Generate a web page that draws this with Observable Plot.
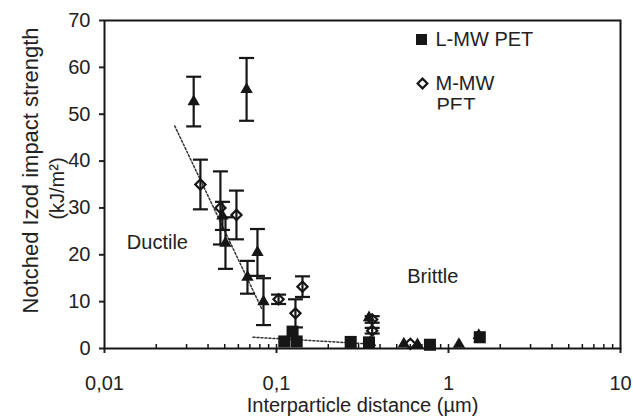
<!DOCTYPE html>
<html><head><meta charset="utf-8">
<script src="https://cdn.jsdelivr.net/npm/d3@7"></script>
<script src="https://cdn.jsdelivr.net/npm/@observablehq/plot@0.6"></script>
<style>body{margin:0;background:#fff}</style>
</head><body><div id="chart"></div>
<script>
// Triangles (third series, not in the visible legend)
const triX   = [0.033, 0.067, 0.0485, 0.0505, 0.0678, 0.0775, 0.084, 0.345, 0.35, 0.55, 0.66, 1.15, 1.5];
const triY   = [52.7, 55.3, 28.3, 22.5, 15.2, 20.5, 10.0, 6.6, 1.3, 1.0, 0.8, 0.9, 2.8];
const triErr = [5.3, 6.7, 3.0, 5.5, 3.5, 5.0, 5.0, 0, 0, 0, 0, 0, 0];
// M-MW PET (open diamonds)
const mmwX   = [0.0361, 0.0472, 0.0585, 0.1028, 0.1416, 0.1289, 0.36, 0.36, 0.6];
const mmwY   = [35.0, 30.0, 28.5, 10.5, 13.2, 7.5, 6.2, 3.8, 1.0];
const mmwErr = [5.3, 7.8, 5.2, 1.0, 2.2, 3.0, 0.7, 0.6, 0];
// L-MW PET (filled squares)
const lmwX   = [0.111, 0.124, 0.131, 0.27, 0.345, 0.78, 1.52];
const lmwY   = [1.5, 3.6, 1.5, 1.4, 1.3, 0.8, 2.4];
// Dotted trend lines
const ductileX = [0.0256, 0.082];
const ductileY = [47.5, 8.5];
const brittleX = [0.073, 0.34];
const brittleY = [2.4, 1.0];
// Annotations
const annText = ["Ductile", "Brittle"];
const annX = [0.0203, 0.81];
const annY = [22.5, 15.4];
// Axes
const yTicks = [0, 10, 20, 30, 40, 50, 60, 70];
const xTicks = [0.01, 0.1, 1, 10];
const xTickLabels = ["0,01", "0,1", "1", "10"];
const xMinor = [0.02,0.03,0.04,0.05,0.06,0.07,0.08,0.09,0.1,
                0.2,0.3,0.4,0.5,0.6,0.7,0.8,0.9,1,
                2,3,4,5,6,7,8,9];
const legendNames = ["L-MW PET", "M-MW", "PET"];

const tri = triX.map((x, i) => ({x, y: triY[i], e: triErr[i]}));
const mmw = mmwX.map((x, i) => ({x, y: mmwY[i], e: mmwErr[i]}));
const lmw = lmwX.map((x, i) => ({x, y: lmwY[i]}));
const ductile = ductileX.map((x, i) => ({x, y: ductileY[i]}));
const brittle = brittleX.map((x, i) => ({x, y: brittleY[i]}));
const ann = annText.map((t, i) => ({t, x: annX[i], y: annY[i]}));
const errs = [...tri, ...mmw].filter(d => d.e > 0);

const ink = "#161616";
const cap = {draw(ctx) { ctx.moveTo(-7.5, 0); ctx.lineTo(7.5, 0); }};
const font = "'Liberation Sans', Arial, Helvetica, sans-serif";

const chart = Plot.plot({
  width: 633, height: 419,
  marginLeft: 104, marginRight: 13, marginTop: 20, marginBottom: 71,
  style: {fontFamily: font, fontSize: "20px", color: "#222", background: "#fff"},
  x: {type: "log", domain: [0.01, 10]},
  y: {domain: [0, 70]},
  marks: [
    Plot.axisY({ticks: yTicks, tickSize: 5, tickPadding: 9, strokeWidth: 2, label: null, fontSize: 20}),
    Plot.axisX({ticks: xTicks, tickSize: 5, tickPadding: 22, strokeWidth: 2, label: null, fontSize: 20,
                tickFormat: d => xTickLabels[xTicks.indexOf(d)]}),
    Plot.ruleX(xMinor, {x: d => d, y1: 0, y2: 0.85, stroke: ink, strokeWidth: 1.5}),
    Plot.frame({stroke: ink, strokeWidth: 2}),
    Plot.line(ductile, {x: "x", y: "y", stroke: "#333", strokeWidth: 1.5, strokeDasharray: "2,2"}),
    Plot.line(brittle, {x: "x", y: "y", stroke: "#333", strokeWidth: 1.5, strokeDasharray: "2,2"}),
    Plot.link(errs, {x1: "x", x2: "x", y1: d => d.y - d.e, y2: d => d.y + d.e, stroke: ink, strokeWidth: 2.2}),
    Plot.dot(errs, {x: "x", y: d => d.y - d.e, symbol: cap, stroke: ink, strokeWidth: 2.2}),
    Plot.dot(errs, {x: "x", y: d => d.y + d.e, symbol: cap, stroke: ink, strokeWidth: 2.2}),
    Plot.dot(mmw, {x: "x", y: "y", symbol: "diamond2", r: 4.6, fill: "none", stroke: ink, strokeWidth: 2.2}),
    Plot.dot(tri, {x: "x", y: "y", symbol: "triangle", r: 4.6, fill: ink, stroke: "none"}),
    Plot.dot(lmw, {x: "x", y: "y", symbol: "square", r: 6.8, fill: ink, stroke: "none"}),
    Plot.text(ann, {x: "x", y: "y", text: "t", fontSize: 20, fill: "#222"}),
    // legend
    Plot.dot([legendNames[0]], {frameAnchor: "top-left", dx: 317, dy: 19, symbol: "square", r: 6.2, fill: ink, stroke: "none"}),
    Plot.dot([legendNames[1]], {frameAnchor: "top-left", dx: 318, dy: 63, symbol: "diamond2", r: 4.4, fill: "none", stroke: ink, strokeWidth: 2.2}),
    Plot.text([legendNames[0]], {frameAnchor: "top-left", dx: 331, dy: 19, text: d => d, textAnchor: "start", lineAnchor: "middle", fontSize: 20, fill: "#222"}),
    Plot.text([legendNames[1]], {frameAnchor: "top-left", dx: 331, dy: 63, text: d => d, textAnchor: "start", lineAnchor: "middle", fontSize: 20, fill: "#222"}),
    Plot.text([legendNames[2]], {frameAnchor: "top-left", dx: 332, dy: 85, text: d => d, textAnchor: "start", lineAnchor: "middle", fontSize: 20, fill: "#222"}),
    // axis titles
    Plot.text(["Notched Izod impact strength"], {frameAnchor: "left", dx: -74, dy: -14, rotate: -90, text: d => d, textAnchor: "middle", lineAnchor: "middle", fontSize: 22, fill: "#222"}),
    Plot.text(["(kJ/m²)"], {frameAnchor: "left", dx: -47, dy: 4, rotate: -90, text: d => d, textAnchor: "middle", lineAnchor: "middle", fontSize: 20, fill: "#222"}),
    Plot.text(["Interparticle distance (µm)"], {frameAnchor: "bottom", dy: 57, text: d => d, textAnchor: "middle", lineAnchor: "middle", fontSize: 20, fill: "#222"})
  ]
});
document.getElementById("chart").append(chart);

// the legend's second "PET" line is cut off at its lower part in the original
const svg = d3.select(chart);
svg.append("defs").append("clipPath").attr("id", "petclip")
  .append("rect").attr("x", -50).attr("y", -40).attr("width", 200).attr("height", 44);
svg.selectAll("text").filter(function() { return this.textContent === "PET"; }).attr("clip-path", "url(#petclip)");
</script>
</body></html>
